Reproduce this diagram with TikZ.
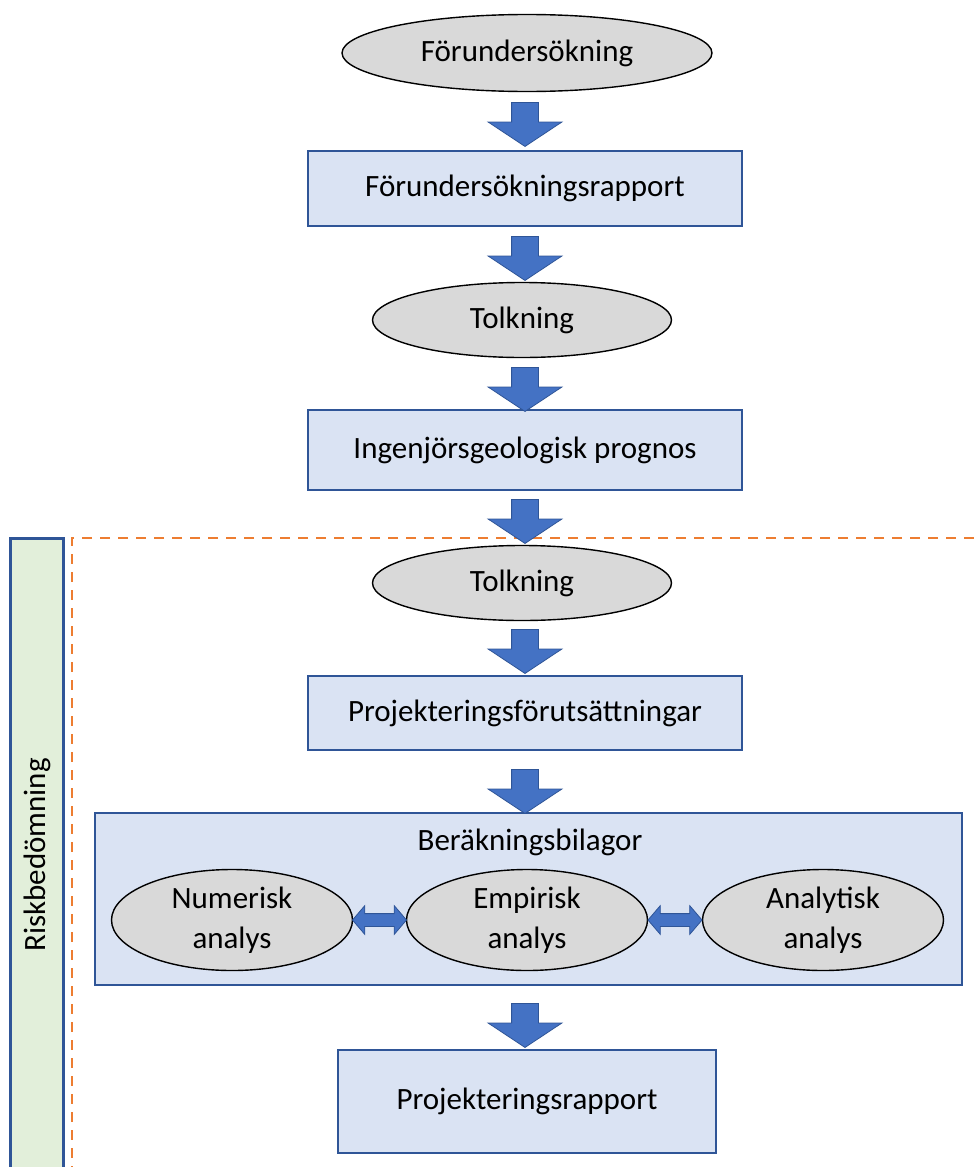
\documentclass[tikz,border=0pt]{standalone}
\usepackage{fontspec}
\setmainfont{Carlito}
\usetikzlibrary{shapes.geometric,shapes.arrows,calc}
\definecolor{ellgray}{RGB}{217,217,217}
\definecolor{boxblue}{RGB}{218,227,243}
\definecolor{edgeblue}{RGB}{47,85,151}
\definecolor{arrowblue}{RGB}{68,114,196}
\definecolor{riskgreen}{RGB}{226,239,218}
\definecolor{dashorange}{RGB}{237,125,49}
\tikzset{
  oval/.style={ellipse, draw=black, line width=0.7pt, fill=ellgray, inner sep=0pt, align=center},
  stepbox/.style={rectangle, draw=edgeblue, line width=1pt, fill=boxblue, inner sep=0pt, align=center},
  downarrow/.style={single arrow, draw=edgeblue, line width=0.4pt, fill=arrowblue, rotate=-90,
    inner xsep=0pt, inner ysep=6.5pt, minimum height=22pt, single arrow head extend=11.75pt,
    single arrow tip angle=113},
  twoarrow/.style={double arrow, draw=edgeblue, line width=0.4pt, fill=arrowblue,
    inner xsep=0pt, inner ysep=3pt, minimum height=27pt, double arrow head extend=4pt,
    double arrow tip angle=99}
}
\begin{document}
\begin{tikzpicture}[x=0.5pt,y=-0.5pt,font=\fontsize{15.5}{20}\selectfont]
\useasboundingbox (0,0) rectangle (974,1167);
% risk region
\clip (0,0) rectangle (974,1167);
\draw [draw=edgeblue, line width=1.5pt, fill=riskgreen] (10,538) rectangle (63,1175);
\node [rotate=90] (risk) at (37,855) {Riskbedömning};
\draw [dashorange, line width=1.3pt, dash pattern={on 5pt off 4pt}] (974,538) -- (72,538) -- (72,1175);
% chain of steps
\node [oval, minimum width=185pt, minimum height=38.5pt] (forund) at (527,53) {Förundersökning};
\node [stepbox, minimum width=217pt, minimum height=37.5pt] (forrapp) at (525,188) {Förundersökningsrapport};
\node [oval, minimum width=149.5pt, minimum height=37.5pt] (tolk1) at (522,320) {Tolkning};
\node [stepbox, minimum width=217pt, minimum height=40pt] (prognos) at (525,450) {Ingenjörsgeologisk prognos};
\node [oval, minimum width=149.5pt, minimum height=37.5pt] (tolk2) at (522,583) {Tolkning};
\node [stepbox, minimum width=217pt, minimum height=37pt] (projfor) at (525,713) {Projekteringsförutsättningar};
\node [stepbox, minimum width=433.5pt, minimum height=86pt] (berakn) at (528.5,899) {};
\node (beraknlabel) at (530,842) {Beräkningsbilagor};
\node [oval, minimum width=120.5pt, minimum height=50.5pt] (numer) at (232,920) {Numerisk\\analys};
\node [oval, minimum width=120.5pt, minimum height=50.5pt] (empir) at (527,920) {Empirisk\\analys};
\node [oval, minimum width=120.5pt, minimum height=50.5pt] (analyt) at (823,920) {Analytisk\\analys};
\node [stepbox, minimum width=189pt, minimum height=51.5pt] (projrapp) at (527,1101) {Projekteringsrapport};
% block arrows
\node [downarrow] (a1) at (525,120) {};
\node [downarrow] (a2) at (525,254) {};
\node [downarrow] (a3) at (525,385) {};
\node [downarrow] (a4) at (525,517) {};
\node [downarrow] (a5) at (525,647) {};
\node [downarrow] (a6) at (525,787) {};
\node [downarrow] (a7) at (525,1021) {};
\node [twoarrow] (d1) at ($(numer.east)!0.5!(empir.west)$) {};
\node [twoarrow] (d2) at ($(empir.east)!0.5!(analyt.west)$) {};
\end{tikzpicture}
\end{document}
